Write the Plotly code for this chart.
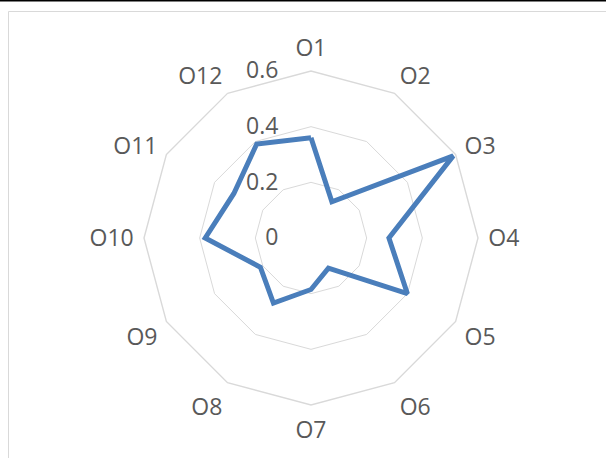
import plotly.graph_objects as go

categories = ["O1", "O2", "O3", "O4", "O5", "O6", "O7", "O8", "O9", "O10", "O11", "O12"]
values = [0.36, 0.15, 0.59, 0.28, 0.40, 0.125, 0.185, 0.27, 0.21, 0.38, 0.32, 0.39]
radial_ticks = [0, 0.2, 0.4, 0.6]
radial_labels = ["0", "0.2", "0.4", "0.6"]

W, H = 606, 458
cx, cy, R = 311, 238, 167

fig = go.Figure()
fig.add_trace(go.Scatterpolar(
    r=values + values[:1],
    theta=categories + categories[:1],
    mode="lines",
    line=dict(color="#4a7ebb", width=5),
    hoverinfo="skip",
))

fig.update_layout(
    width=W, height=H,
    margin=dict(l=0, r=0, t=0, b=0),
    paper_bgcolor="white",
    showlegend=False,
    font=dict(family="Open Sans", color="#595959", size=23),
    polar=dict(
        domain=dict(x=[(cx - R) / W, (cx + R) / W], y=[1 - (cy + R) / H, 1 - (cy - R) / H]),
        bgcolor="white",
        gridshape="linear",
        radialaxis=dict(
            range=[0, 0.6],
            tickvals=radial_ticks,
            ticktext=radial_labels,
            angle=90,
            tickangle=90,
            side="counterclockwise",
            showline=False,
            gridcolor="#d9d9d9",
            gridwidth=1.4,
            ticks="outside",
            ticklen=24,
            tickcolor="rgba(0,0,0,0)",
            tickfont=dict(size=23, color="#595959"),
        ),
        angularaxis=dict(
            direction="clockwise",
            rotation=90,
            showgrid=False,
            showline=True,
            linecolor="#d9d9d9",
            linewidth=1.4,
            ticks="outside",
            ticklen=5,
            tickcolor="rgba(0,0,0,0)",
            tickfont=dict(size=23, color="#595959"),
        ),
    ),
    shapes=[
        dict(type="rect", xref="paper", yref="paper",
             x0=8.5 / W, x1=1.05, y0=-0.05, y1=1 - 11.5 / H,
             line=dict(color="#d9d9d9", width=1), fillcolor="rgba(0,0,0,0)", layer="below"),
        dict(type="line", xref="paper", yref="paper",
             x0=0, x1=1, y0=1 - 0.5 / H, y1=1 - 0.5 / H,
             line=dict(color="black", width=2)),
    ],
)

fig.write_html("out.html", config={"displayModeBar": False},
               post_script="document.body.style.margin='0';")
